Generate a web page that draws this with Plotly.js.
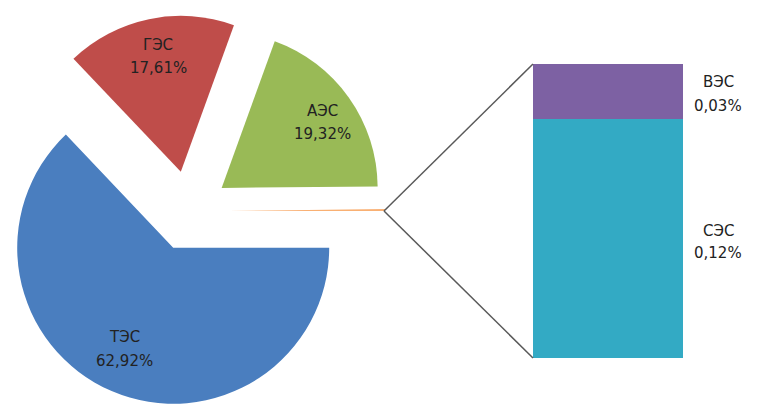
<!DOCTYPE html>
<html>
<head>
<meta charset="utf-8">
<script src="https://cdn.plot.ly/plotly-3.0.1.min.js"></script>
<style>
  html, body { margin: 0; padding: 0; overflow: hidden; background: #ffffff; }
  #chart { position: absolute; left: -10px; top: 0; width: 767px; height: 411px; }
</style>
</head>
<body>
<div id="chart"></div>
<script>
// ---- data ----
var pieLabels = ["ТЭС", "ГЭС", "АЭС", "Другие"];
var pieValues = [62.92, 17.61, 19.32, 0.15];
var pieColors = ["#4A7EBF", "#BF4D4A", "#99BA56", "#F79646"];

var barLabels = ["СЭС", "ВЭС"];
var barValues = [0.122, 0.028];
var barColors = ["#33AAC4", "#7D61A3"];

// ---- layout helpers (pixel -> paper) ----
var OFF = 10, W = 767, H = 411;
function px(x) { return (x + OFF) / W; }
function py(y) { return (H - y) / H; }
function fmt(v) { return v.toFixed(2).replace('.', ',') + '%'; }

var pieCx = 189, pieCy = 211, pieR = 156, pullPx = 40;
var pull = pullPx / pieR;
var half = pieR * (1 + pull);

var barLeft = 533, barRight = 683, barTop = 64, barBottom = 358;

var traces = [{
  type: 'pie',
  labels: pieLabels,
  values: pieValues,
  sort: false,
  direction: 'clockwise',
  rotation: 90,
  pull: pieValues.map(function () { return pull; }),
  marker: { colors: pieColors, line: { width: 0 } },
  textinfo: 'none',
  hoverinfo: 'skip',
  showlegend: false,
  domain: {
    x: [px(pieCx - half), px(pieCx + half)],
    y: [py(pieCy + half), py(pieCy - half)]
  }
}];

var cum = 0;
barLabels.forEach(function (lab, i) {
  traces.push({
    type: 'bar',
    x: ['bar'],
    y: [barValues[i]],
    name: lab,
    width: 1,
    marker: { color: barColors[i], line: { width: 0 } },
    hoverinfo: 'skip',
    showlegend: false,
    xaxis: 'x', yaxis: 'y'
  });
});

var total = barValues.reduce(function (a, b) { return a + b; }, 0);

var annFont = { family: 'DejaVu Sans', size: 15, color: '#222222' };
function ann(x, y, text) {
  return { xref: 'paper', yref: 'paper', x: px(x), y: py(y), text: text,
           showarrow: false, font: annFont, xanchor: 'center', yanchor: 'middle' };
}

var labelPos = {
  "ТЭС": [124, 337, 361],
  "ГЭС": [158, 45, 68],
  "АЭС": [322, 111, 134]
};
var annotations = [];
pieLabels.forEach(function (lab, i) {
  if (labelPos[lab]) {
    var p = labelPos[lab];
    annotations.push(ann(p[0], p[1], lab));
    annotations.push(ann(p[0], p[2], fmt(pieValues[i])));
  }
});
var barLabelPos = {
  "СЭС": [718, 231, 253],
  "ВЭС": [718, 82, 106]
};
barLabels.forEach(function (lab, i) {
  var p = barLabelPos[lab];
  annotations.push(ann(p[0], p[1], lab));
  annotations.push(ann(p[0], p[2], fmt(barValues[i])));
});

var tipX = pieCx + pullPx + pieR - 1;
var lineStyle = { color: '#595959', width: 1.5 };
var shapes = [
  { type: 'line', xref: 'paper', yref: 'paper', x0: px(tipX), y0: py(pieCy), x1: px(barLeft), y1: py(barTop), line: lineStyle },
  { type: 'line', xref: 'paper', yref: 'paper', x0: px(tipX), y0: py(pieCy), x1: px(barLeft), y1: py(barBottom), line: lineStyle }
];

var layout = {
  width: W, height: H,
  margin: { l: 0, r: 0, t: 0, b: 0, pad: 0 },
  paper_bgcolor: '#ffffff', plot_bgcolor: 'rgba(0,0,0,0)',
  barmode: 'stack',
  showlegend: false,
  xaxis: { domain: [px(barLeft), px(barRight)], range: [-0.5, 0.5], visible: false, fixedrange: true },
  yaxis: { domain: [py(barBottom), py(barTop)], range: [0, total], visible: false, fixedrange: true },
  annotations: annotations,
  shapes: shapes
};

Plotly.newPlot('chart', traces, layout, { staticPlot: true, displayModeBar: false });
</script>
</body>
</html>
